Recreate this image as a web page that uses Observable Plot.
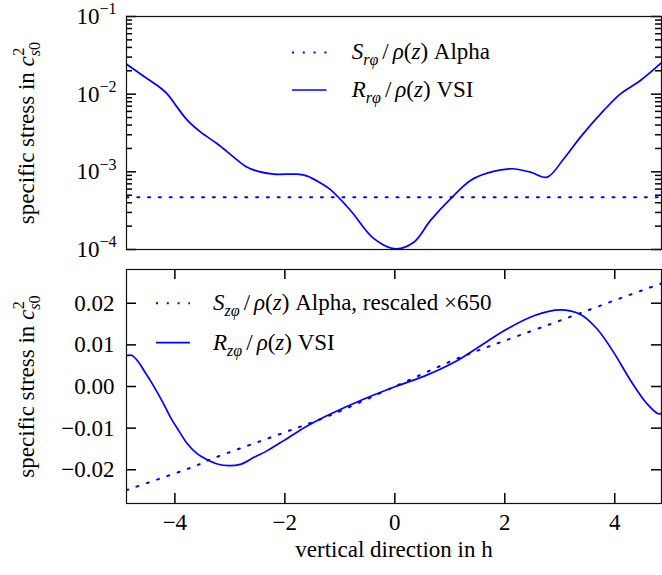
<!DOCTYPE html>
<html><head><meta charset="utf-8">
<script src="https://cdn.jsdelivr.net/npm/d3@7"></script>
<script src="https://cdn.jsdelivr.net/npm/@observablehq/plot@0.6"></script>
<style>
body{margin:0;background:#fff;}
#chart{width:662px;height:575px;}
#chart svg{display:block;}
</style></head><body><div id="chart"></div>
<script>
// ---- data ----
const topSolidX = [-4.89,-4.56,-4.32,-4.14,-3.96,-3.77,-3.53,-3.23,-2.93,-2.71,-2.5,-2.2,-1.77,-1.59,-1.35,-1.17,-0.805,-0.38,0.013,0.345,0.649,1.043,1.376,1.68,2.134,2.467,2.77,3.073,3.376,3.8,4.104,4.467,4.862];
const topSolidY = [0.0246,0.0169,0.01294,0.0101,0.00681,0.00459,0.00324,0.0023,0.00155,0.00117,0.00102,0.000933,0.000933,0.000881,0.000716,0.000589,0.000318,0.000138,0.000102,0.000124,0.000237,0.000472,0.000774,0.000962,0.001096,0.00099,0.000855,0.001476,0.0028,0.00617,0.0101,0.015,0.0258];
const topDotX = [-4.88, 0, 4.86];
const topDotY = [0.00047, 0.00047, 0.00047];

const botSolidX = [-4.89,-4.79,-4.68,-4.56,-4.44,-4.32,-4.2,-4.08,-3.93,-3.77,-3.59,-3.41,-3.23,-3.02,-2.81,-2.56,-2.32,-2.02,-1.71,-1.53,-1.17,-0.56,0.013,0.59,1.13,1.56,2.04,2.53,3.01,3.38,3.68,3.98,4.29,4.59,4.8,4.87];
const botSolidY = [0.0074,0.0075,0.0062,0.0038,0.0013,-0.0014,-0.0043,-0.0074,-0.0106,-0.0138,-0.0162,-0.0176,-0.0186,-0.019,-0.0187,-0.017,-0.0154,-0.013,-0.0104,-0.009,-0.0066,-0.003,0,0.0028,0.0062,0.0098,0.0138,0.017,0.0184,0.0173,0.0138,0.0082,0.0014,-0.0042,-0.0066,-0.0062];
const botDotX = [-4.88,-4.73,-3.61,-3.41,-2.0,-1.19,0,1.19,2.0,3.04,3.41,4.0,4.86];
const botDotY = [-0.0249,-0.0242,-0.019,-0.0178,-0.011,-0.007,0,0.007,0.011,0.016,0.0178,0.0207,0.0248];

const logMajorTicks = [1e-4, 1e-3, 1e-2, 1e-1];
const linTicks = [-0.02, -0.01, 0, 0.01, 0.02];
const xTicks = [-4, -2, 0, 2, 4];
const yLabel = "specific stress in c_s0^2";
const xLabel = "vertical direction in h";
const legendTop = ["S_rφ/ρ(z) Alpha", "R_rφ/ρ(z) VSI"];
const legendBot = ["S_zφ/ρ(z) Alpha, rescaled ×650", "R_zφ/ρ(z) VSI"];

// ---- layout / helpers ----
const zip = (xs, ys) => xs.map((x, i) => ({x, y: ys[i]}));
const FS = 23;
const BLUE = "#0000ff";
const DOT = "2,8.8";
const W = 662;
const ML = 126, MR = 1;
const FRAME_W = W - ML - MR;
const X_DOMAIN = [-4.88, 4.85];
const style = {fontFamily: "'Liberation Serif', 'Times New Roman', serif", fontSize: FS + "px", background: "white"};
const logMinor = d3.scaleLog().domain([1e-4, 1e-1]).ticks().filter(t => !logMajorTicks.some(m => Math.abs(m - t) / m < 1e-6));

function rich(textEl, parts, size) {
  const t = d3.select(textEl);
  t.text(null);
  let shift = 0;
  for (const p of parts) {
    const ts = t.append("tspan").text(p.s);
    let target = 0, fs = null;
    if (p.sub) { target = 0.26 * size; fs = 0.7 * size; }
    if (p.sup) { target = -0.42 * size; fs = 0.7 * size; }
    if (target !== shift) { ts.attr("dy", target - shift); shift = target; }
    if (fs) ts.attr("font-size", fs);
    if (p.i) ts.attr("font-style", "italic");
    if (p.dx) ts.attr("dx", p.dx);
  }
}
function mathLegend(label) {
  const m = label.match(/^(\w)_(\w)(φ)\/ρ\(z\)(.*)$/);
  return [
    {s: m[1], i: true}, {s: m[2] + m[3], i: true, sub: true},
    {s: "/", dx: 4}, {s: "ρ", i: true, dx: 4}, {s: "("}, {s: "z", i: true}, {s: ")"}, {s: m[4]}
  ];
}
function yLabelParts() {
  return [{s: "specific stress in "}, {s: "c", i: true}, {s: "s", i: true, sub: true}, {s: "0", sub: true}, {s: "2", sup: true, dx: -14}];
}
function addLegend(svg, rows, x0, x1, tx, ys) {
  const g = d3.select(svg).append("g").attr("class", "legend").attr("text-anchor", "start");
  rows.forEach((lab, i) => {
    g.append("line").attr("x1", x0).attr("x2", x1).attr("y1", ys[i]).attr("y2", ys[i])
      .attr("stroke", BLUE).attr("stroke-width", i === 0 ? 2 : 1.7)
      .attr("stroke-dasharray", i === 0 ? DOT : null);
    const t = g.append("text").attr("x", tx).attr("y", ys[i]).attr("dy", "0.3em")
      .attr("text-anchor", "start").attr("font-size", FS).attr("fill", "black");
    rich(t.node(), mathLegend(lab), FS);
  });
}
// inward ticks as short rules; lengths in pixels converted to the scale's units
const xPx = FRAME_W / (X_DOMAIN[1] - X_DOMAIN[0]);
const TICK = {stroke: "#000", strokeWidth: 1.5};
const inTicksY = (ticks, side, len) => Plot.ruleY(ticks, {
  y: d => d,
  x1: side === "left" ? X_DOMAIN[0] : X_DOMAIN[1] - len / xPx,
  x2: side === "left" ? X_DOMAIN[0] + len / xPx : X_DOMAIN[1],
  ...TICK
});
const inTicksX = (ticks, side, len, yDom, frameH) => {
  const yPx = frameH / (yDom[1] - yDom[0]);
  return Plot.ruleX(ticks, {
    x: d => d,
    y1: side === "bottom" ? yDom[0] : yDom[1] - len / yPx,
    y2: side === "bottom" ? yDom[0] + len / yPx : yDom[1],
    ...TICK
  });
};

// ---- top panel ----
const topPlot = Plot.plot({
  width: W, height: 260,
  marginLeft: ML, marginRight: MR, marginTop: 16, marginBottom: 11,
  style,
  x: {domain: X_DOMAIN, axis: null},
  y: {type: "log", domain: [1e-4, 1e-1]},
  marks: [
    Plot.line(zip(topDotX, topDotY), {x: "x", y: "y", stroke: BLUE, strokeWidth: 2, strokeDasharray: DOT, clip: true}),
    Plot.line(zip(topSolidX, topSolidY), {x: "x", y: "y", stroke: BLUE, strokeWidth: 1.7, curve: "catmull-rom", clip: true}),
    inTicksY(logMajorTicks, "left", 10), inTicksY(logMajorTicks, "right", 10),
    inTicksY(logMinor, "left", 6), inTicksY(logMinor, "right", 6),
    Plot.axisY({anchor: "left", ticks: logMajorTicks, tickSize: 0, tickPadding: 10, label: null, tickFormat: d => "10^" + Math.round(Math.log10(d))}),
    Plot.text([yLabel], {frameAnchor: "left", dx: -100, rotate: -90, textAnchor: "middle", text: d => d, fontSize: FS}),
    Plot.frame({stroke: "#111", strokeWidth: 1.2})
  ]
});

// ---- bottom panel ----
const BOT_H = 315, BOT_MT = 9, BOT_MB = 72;
const BOT_FH = BOT_H - BOT_MT - BOT_MB;
const Y_BOT = [-0.0281, 0.0281];
const fmt = d3.format(".2f");
const botPlot = Plot.plot({
  width: W, height: BOT_H,
  marginLeft: ML, marginRight: MR, marginTop: BOT_MT, marginBottom: BOT_MB,
  style,
  x: {domain: X_DOMAIN},
  y: {domain: Y_BOT},
  marks: [
    Plot.line(zip(botDotX, botDotY), {x: "x", y: "y", stroke: BLUE, strokeWidth: 2, strokeDasharray: DOT, curve: "catmull-rom", clip: true}),
    Plot.line(zip(botSolidX, botSolidY), {x: "x", y: "y", stroke: BLUE, strokeWidth: 1.7, curve: "catmull-rom", clip: true}),
    inTicksY(linTicks, "left", 10), inTicksY(linTicks, "right", 10),
    inTicksX(xTicks, "bottom", 10, Y_BOT, BOT_FH), inTicksX(xTicks, "top", 10, Y_BOT, BOT_FH),
    Plot.axisY({anchor: "left", ticks: linTicks, tickSize: 0, tickPadding: 12, label: null, tickFormat: fmt}),
    Plot.axisX({anchor: "bottom", ticks: xTicks, tickSize: 0, tickPadding: 10, label: null, tickFormat: d3.format("d")}),
    Plot.text([yLabel], {frameAnchor: "left", dx: -100, rotate: -90, textAnchor: "middle", text: d => d, fontSize: FS}),
    Plot.text([xLabel], {frameAnchor: "bottom", dy: 53, text: d => d, fontSize: FS}),
    Plot.frame({stroke: "#111", strokeWidth: 1.2})
  ]
});

const chart = document.getElementById("chart");
chart.append(topPlot, botPlot);

// rich text post-processing
for (const svg of [topPlot, botPlot]) {
  d3.select(svg).selectAll("text").each(function() {
    const s = this.textContent;
    if (s.startsWith("10^")) {
      const e = s.slice(3).replace("-", "−");
      rich(this, [{s: "10"}, {s: e, sup: true}], FS);
    } else if (s === yLabel) {
      rich(this, yLabelParts(), FS);
    }
  });
}
addLegend(topPlot, legendTop, 292, 326.5, 351.7, [52.5, 90]);
addLegend(botPlot, legendBot, 156, 190, 213, [43.3, 82.7]);
</script>
</body></html>
